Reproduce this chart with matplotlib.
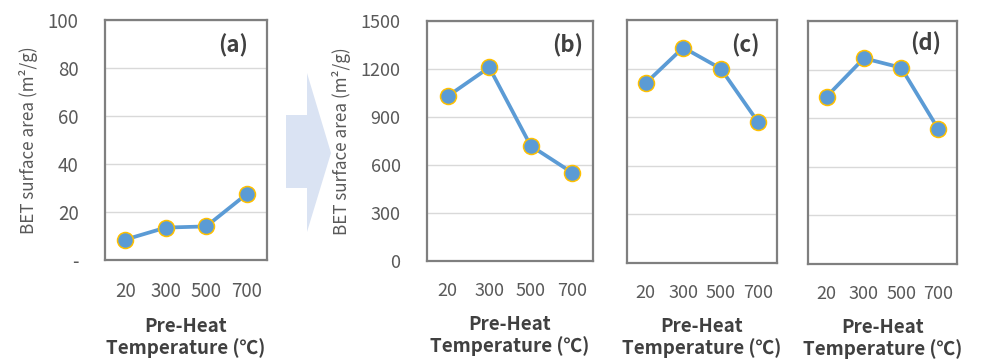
import matplotlib
matplotlib.use("Agg")
import matplotlib.pyplot as plt
from matplotlib.patches import Polygon

plt.rcParams['font.family'] = ['Noto Sans CJK KR', 'DejaVu Sans']

categories = ["20", "300", "500", "700"]
series_a = [8.5, 13.5, 14, 27.5]
series_b = [1030, 1210, 720, 552]
series_c = [1110, 1330, 1200, 868]
series_d = [1033, 1270, 1212, 832]
panel_labels = ["(a)", "(b)", "(c)", "(d)"]
yticks_a = [0, 20, 40, 60, 80, 100]
yticklabels_a = ["-", "20", "40", "60", "80", "100"]
yticks_b = [0, 300, 600, 900, 1200, 1500]

W, H = 986, 361
fig = plt.figure(figsize=(W / 100, H / 100), dpi=100)

def px_axes(left, top, right, bottom):
    return fig.add_axes([left / W, 1 - bottom / H, (right - left) / W, (bottom - top) / H])

LINE = "#5B9BD5"
EDGE = "#FFC000"
TICK = "#595959"
DARK = "#404040"

boxes = [(105, 20, 267, 260), (427, 21, 593, 261), (627, 20, 777, 263), (808, 21, 957, 264)]
datas = [series_a, series_b, series_c, series_d]
label_pos = [(233, 46), (568, 46), (745, 46), (926, 44)]

for i, (box, data) in enumerate(zip(boxes, datas)):
    ax = px_axes(*box)
    x = list(range(len(categories)))
    ax.plot(x, data, color=LINE, lw=2.7, marker="o", ms=11.5, mfc=LINE,
            mec=EDGE, mew=1.1, zorder=3, clip_on=False)
    ax.set_xlim(-0.5, 3.5)
    if i == 0:
        ax.set_ylim(0, 100)
        ax.set_yticks(yticks_a)
        ax.set_yticklabels(yticklabels_a)
        fs = 13.5
    else:
        ax.set_ylim(0, 1500)
        ax.set_yticks(yticks_b)
        fs = 13
    ax.set_xticks(x)
    ax.set_xticklabels(categories)
    ax.grid(axis="y", color="#D9D9D9", lw=1, zorder=0)
    ax.set_axisbelow(True)
    ax.tick_params(length=0, labelsize=fs, colors=TICK, pad=15)
    ax.tick_params(axis="y", pad=19)
    if i >= 2:
        ax.tick_params(axis="y", labelleft=False)
    for s in ax.spines.values():
        s.set_color("#7F7F7F")
        s.set_linewidth(1.6)
    ax.set_xlabel("Pre-Heat\nTemperature (℃)", fontsize=13.5, fontweight="bold",
                  color=DARK, labelpad=11, linespacing=1.12)
    if i < 2:
        ax.set_ylabel("BET surface area (m²/g)", fontsize=12.3, color=TICK, labelpad=7)
    lx, ly = label_pos[i]
    fig.text(lx / W, 1 - ly / H, panel_labels[i], fontsize=16, fontweight="bold",
             color=DARK, ha="center", va="center")

# decorative arrow between (a) and (b)
arrow_px = [(286, 115), (307, 115), (307, 73), (331, 153), (307, 232), (307, 188), (286, 188)]
fig.patches.append(Polygon([(px / W, 1 - py / H) for px, py in arrow_px], closed=True,
                           transform=fig.transFigure, facecolor="#DAE3F3",
                           edgecolor="none"))

fig.savefig("out.png", dpi=100)
